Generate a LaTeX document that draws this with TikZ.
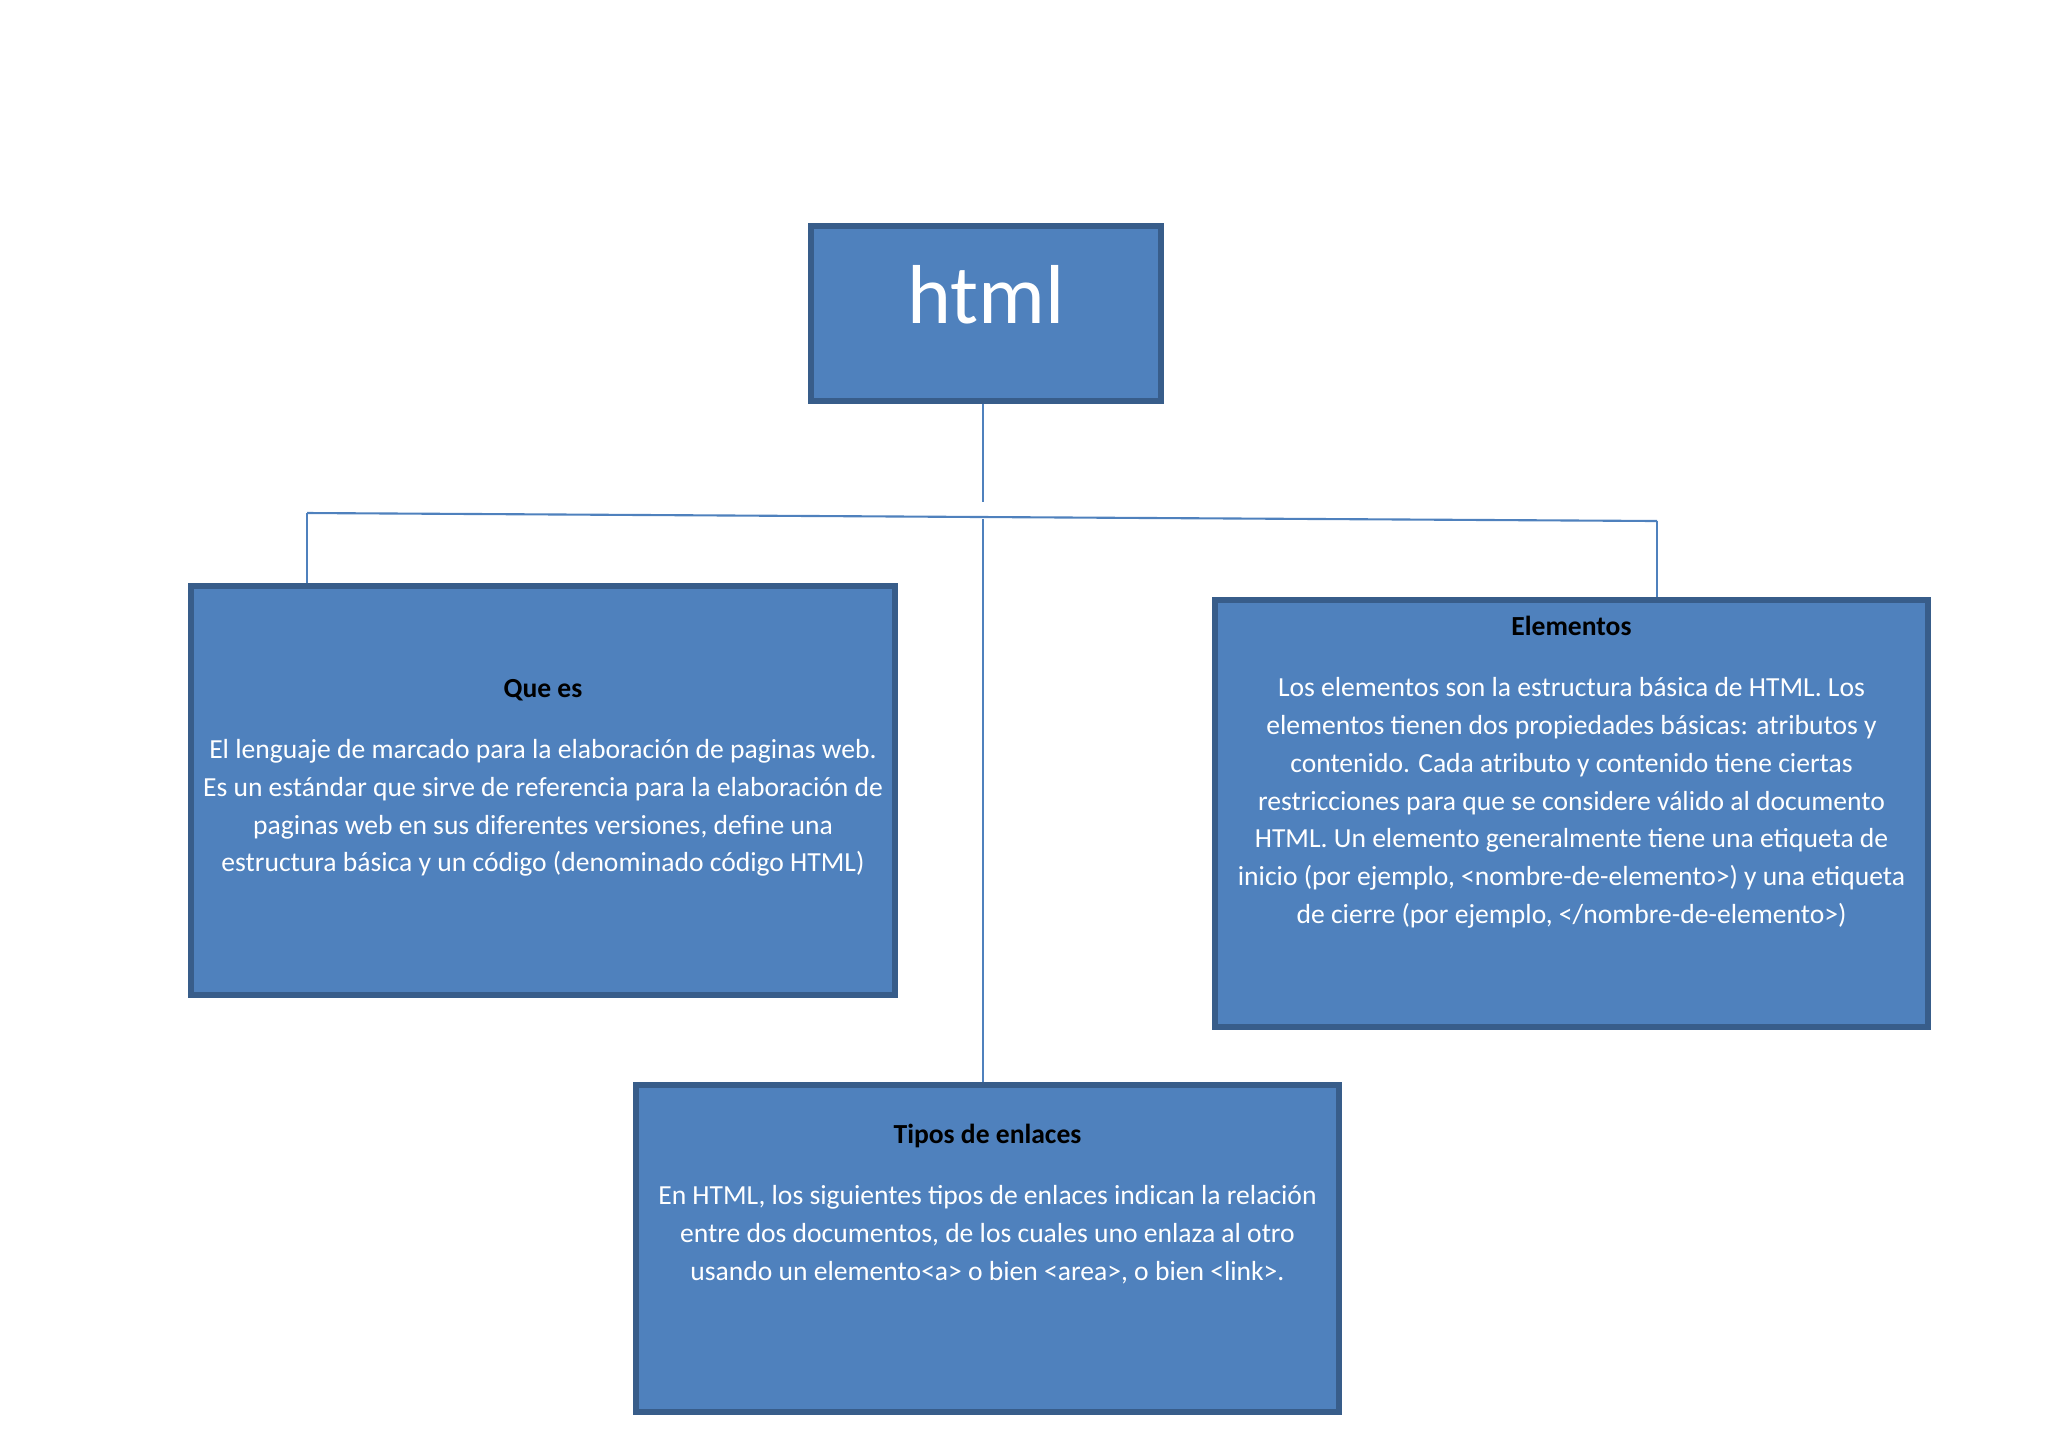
\documentclass[tikz,border=0pt]{standalone}
\usepackage{fontspec}
\setmainfont{Carlito}
\usetikzlibrary{positioning}
\definecolor{cajaazul}{HTML}{4F81BD}
\definecolor{bordeazul}{HTML}{385D8A}
\begin{document}
\begin{tikzpicture}[
	caja/.style={draw=bordeazul,fill=cajaazul,line width=1.5pt,inner sep=0pt},
	texto/.style={text=white,align=center,inner sep=0pt,anchor=north,font=\fontsize{7.85}{10.75}\selectfont},
	linea/.style={draw=cajaazul,line width=0.6pt}]
	\useasboundingbox (0,0) rectangle (20.48,-14.48);
	
	% cajas
	\node[caja,minimum width=3.5cm,minimum height=1.75cm] (html) at (9.86,-3.135) {};
	\node[caja,minimum width=7.04cm,minimum height=4.09cm] (quees) at (5.43,-7.905) {};
	\node[caja,minimum width=7.13cm,minimum height=4.27cm] (elem) at (15.715,-8.135) {};
	\node[caja,minimum width=7.03cm,minimum height=3.27cm] (tipos) at (9.875,-12.485) {};
	
	% textos
	\node[text=white,font=\fontsize{23.8}{28}\selectfont] (htmltxt) at ([yshift=0.19cm]html.center) {html};
	\node[texto] (queestxt) at ([yshift=-0.955cm]quees.north) {{\color{black}\bfseries Que es}\\[0.23cm]
		El lenguaje de marcado para la elaboración de paginas web.\\
		Es un estándar que sirve de referencia para la elaboración de\\
		paginas web en sus diferentes versiones, define una\\
		estructura básica y un código (denominado código HTML)};
	\node[texto] (elemtxt) at ([yshift=-0.185cm]elem.north) {{\color{black}\bfseries Elementos}\\[0.23cm]
		Los elementos son la estructura básica de HTML. Los\\
		elementos tienen dos propiedades básicas: atributos y\\
		contenido. Cada atributo y contenido tiene ciertas\\
		restricciones para que se considere válido al documento\\
		HTML. Un elemento generalmente tiene una etiqueta de\\
		inicio (por ejemplo, <nombre-de-elemento>) y una etiqueta\\
		de cierre (por ejemplo, </nombre-de-elemento>)};
	\node[texto] (tipostxt) at ([yshift=-0.415cm]tipos.north) {{\color{black}\bfseries Tipos de enlaces}\\[0.23cm]
		En HTML, los siguientes tipos de enlaces indican la relación\\
		entre dos documentos, de los cuales uno enlaza al otro\\
		usando un elemento<a> o bien <area>, o bien <link>.};
	
	% lineas
	\coordinate (arriba) at (9.83,-5.02);
	\coordinate (izq) at (3.07,-5.13);
	\coordinate (der) at (16.57,-5.21);
	\coordinate (medio) at (9.83,-5.19);
	\draw[linea] (html.south -| arriba) -- (arriba);
	\draw[linea] (izq) -- (der);
	\draw[linea] (izq) -- (izq |- quees.north);
	\draw[linea] (der) -- (der |- elem.north);
	\draw[linea] (medio) -- (medio |- tipos.north);
\end{tikzpicture}
\end{document}
